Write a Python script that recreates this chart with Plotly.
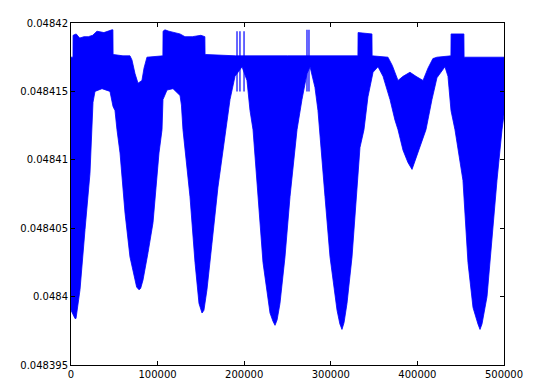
import plotly.graph_objects as go

# Upper envelope of the dense oscillating signal (x, value)
upper_x = [0, 2300, 2400, 6000, 10000, 15000, 20000, 25000, 30000, 38000, 47300, 48400,
           48600, 60000, 68100, 70400, 73900, 77400, 81900, 84300, 87700, 100000, 106100,
           106300, 108500, 113000, 120000, 125900, 131600, 140000, 150000, 154600, 154800,
           190000, 250000, 300000, 331300, 331500, 347500, 347700, 366000, 371000, 377600,
           383400, 391400, 398400, 406500, 412200, 417900, 422600, 438700, 438900, 453700,
           453900, 470000, 500000]
upper_y = [0.0484175, 0.0484175, 0.0484191, 0.0484192, 0.0484189, 0.0484190, 0.0484190,
           0.0484191, 0.0484194, 0.0484193, 0.0484195, 0.0484195,
           0.0484177, 0.0484176, 0.0484176, 0.0484173, 0.0484163, 0.0484156, 0.0484158,
           0.0484167, 0.0484175, 0.0484176, 0.0484176,
           0.0484194, 0.0484195, 0.0484194, 0.0484193, 0.0484192, 0.0484190, 0.0484190,
           0.0484191, 0.0484190, 0.0484177,
           0.0484176, 0.0484176, 0.0484176, 0.0484176, 0.0484193, 0.0484192, 0.0484176,
           0.0484175, 0.0484169, 0.0484158, 0.0484161, 0.0484164, 0.0484161, 0.0484158,
           0.0484167, 0.0484174, 0.0484175, 0.0484176, 0.0484192, 0.0484192, 0.0484175,
           0.0484175, 0.0484175]

# Lower envelope of the signal (x, value)
lower_x = [0, 4600, 5800, 10400, 13900, 16200, 21900, 25400, 27700, 35800, 45000, 48500,
           50800, 53100, 56600, 58900, 62400, 68100, 73900, 75800, 78500, 80400, 83100,
           88900, 94700, 98100, 101600, 105100, 106200, 110900, 117800, 125900, 127500,
           129300, 137400, 143200, 147800, 151300, 153500, 157000, 162800, 169700, 179000,
           183600, 189400, 197500, 203200, 206700, 210200, 215900, 221700, 229800, 233200,
           235600, 238000, 241300, 247100, 252900, 261000, 266700, 272500, 276000, 281700,
           285200, 287500, 293300, 299100, 307200, 310500, 312900, 315300, 318700, 324500,
           330300, 333700, 338300, 342900, 348800, 354500, 360300, 368400, 374100, 377600,
           383400, 389100, 393800, 397200, 403000, 409900, 416800, 422600, 431800, 435300,
           438800, 443400, 452600, 458400, 464200, 469900, 472300, 474600, 480400, 486100,
           491900, 497700, 500000]
lower_y = [0.0483990, 0.0483984, 0.0483984, 0.0484005, 0.0484029, 0.0484049, 0.0484090,
           0.0484142, 0.0484150, 0.0484152, 0.0484150, 0.0484139, 0.0484136, 0.0484122,
           0.0484105, 0.0484085, 0.0484061, 0.0484029, 0.0484012, 0.0484007, 0.0484005,
           0.0484006, 0.0484012, 0.0484032, 0.0484054, 0.0484078, 0.0484105, 0.0484122,
           0.0484144, 0.0484151, 0.0484152, 0.0484147, 0.0484140, 0.0484122, 0.0484073,
           0.0484025, 0.0483995, 0.0483988, 0.0483990, 0.0484005, 0.0484039, 0.0484080,
           0.0484122, 0.0484144, 0.0484161, 0.0484168, 0.0484158, 0.0484136, 0.0484122,
           0.0484073, 0.0484025, 0.0483988, 0.0483982, 0.0483979, 0.0483983, 0.0483995,
           0.0484029, 0.0484073, 0.0484122, 0.0484144, 0.0484163, 0.0484168, 0.0484153,
           0.0484136, 0.0484122, 0.0484073, 0.0484029, 0.0483990, 0.0483980, 0.0483976,
           0.0483981, 0.0483995, 0.0484029, 0.0484078, 0.0484109, 0.0484122, 0.0484146,
           0.0484164, 0.0484168, 0.0484161, 0.0484144, 0.0484129, 0.0484122, 0.0484107,
           0.0484098, 0.0484093, 0.0484098, 0.0484109, 0.0484122, 0.0484144, 0.0484160,
           0.0484168, 0.0484161, 0.0484136, 0.0484122, 0.0484085, 0.0484025, 0.0483992,
           0.0483980, 0.0483976, 0.0483980, 0.0484000, 0.0484039, 0.0484085, 0.0484122,
           0.0484133]

# Thin spikes visible in the signal
spike_x = [191700, 195100, 199800, 272500, 274800]
spike_top = [0.0484194, 0.0484194, 0.0484194, 0.0484195, 0.0484195]
spike_bottom = [0.0484150, 0.0484150, 0.0484150, 0.0484150, 0.0484150]

x_ticks = [0, 100000, 200000, 300000, 400000, 500000]
x_labels = ["0", "100000", "200000", "300000", "400000", "500000"]
y_ticks = [0.048395, 0.0484, 0.048405, 0.04841, 0.048415, 0.04842]
y_labels = ["0.048395", "0.0484", "0.048405", "0.04841", "0.048415", "0.04842"]

blue = "#0000ff"

fig = go.Figure()
poly_x = upper_x + lower_x[::-1]
poly_y = upper_y + lower_y[::-1]
fig.add_trace(go.Scatter(x=poly_x, y=poly_y, mode="lines", fill="toself",
                         fillcolor=blue, line=dict(color=blue, width=0.8),
                         hoverinfo="skip", showlegend=False))

sx, sy = [], []
for xv, t, b in zip(spike_x, spike_top, spike_bottom):
    sx += [xv, xv, None]
    sy += [b, t, None]
fig.add_trace(go.Scatter(x=sx, y=sy, mode="lines", line=dict(color=blue, width=1.2),
                         hoverinfo="skip", showlegend=False))

axis_common = dict(showgrid=False, zeroline=False, showline=True, linecolor="black",
                   linewidth=1, mirror="allticks", ticks="inside", ticklen=4,
                   tickcolor="black", tickwidth=1, automargin=False,
                   tickfont=dict(family="DejaVu Sans", size=10, color="black"))

fig.update_xaxes(range=[0, 500000], tickvals=x_ticks, ticktext=x_labels, **axis_common)
fig.update_yaxes(range=[0.048395, 0.04842], tickvals=y_ticks, ticktext=y_labels, **axis_common)

fig.update_layout(width=533, height=392, margin=dict(l=71, r=29, t=23, b=27),
                  plot_bgcolor="white", paper_bgcolor="white", showlegend=False)

fig.write_html("out.html", config={"displayModeBar": False},
               post_script="document.body.style.margin='0';document.body.style.overflow='hidden';")
